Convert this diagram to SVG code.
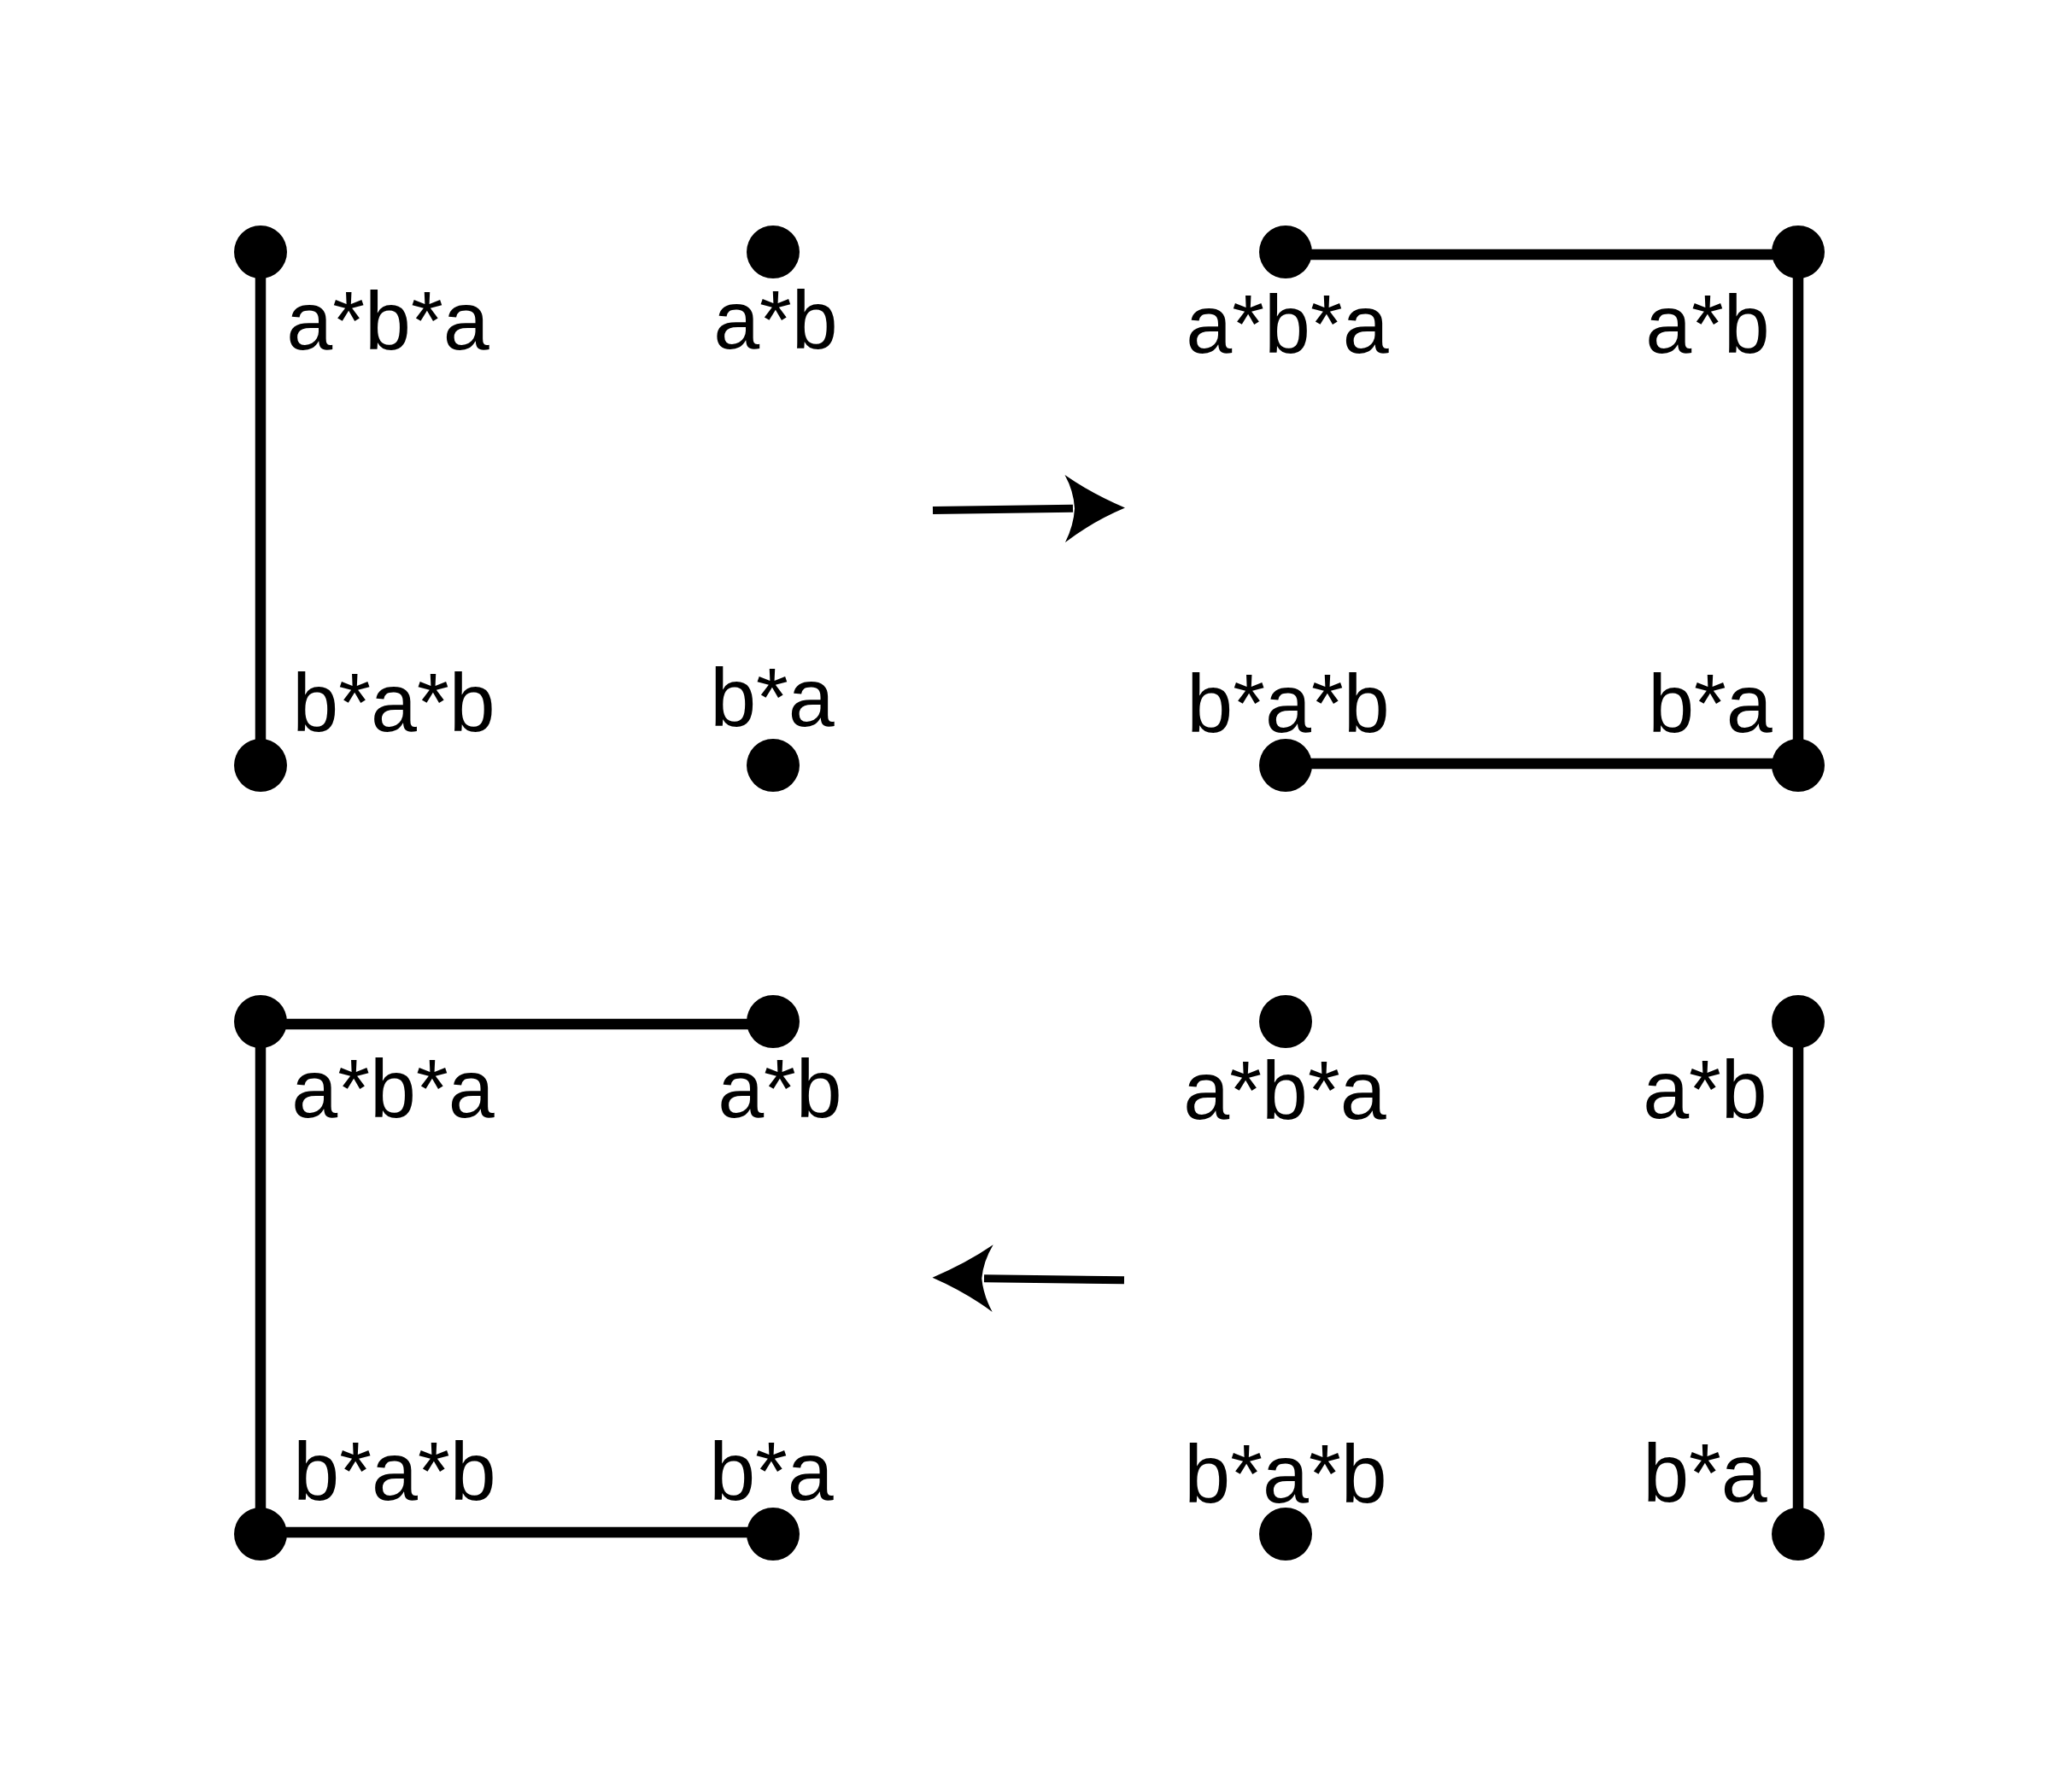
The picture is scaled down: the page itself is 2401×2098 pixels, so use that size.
<svg xmlns="http://www.w3.org/2000/svg" width="2401" height="2098" viewBox="0 0 2401 2098">
<style>
.dot{fill:#000}
.lbl{font-family:"Liberation Sans",Arial,sans-serif;font-size:97px;fill:#000;text-anchor:middle}
.edge{stroke:#000;stroke-width:12.5;fill:none}
.arr{stroke:#000;stroke-width:9;fill:none}
.head{fill:#000;stroke:none}
</style>
<rect width="2401" height="2098" fill="#fff"/>
<g id="connectors">
  <line class="edge" x1="305" y1="295" x2="305" y2="896"/>
  <line class="edge" x1="1505" y1="298" x2="2105" y2="298"/>
  <line class="edge" x1="2105" y1="295" x2="2105" y2="896"/>
  <line class="edge" x1="1505" y1="894" x2="2105" y2="894"/>
  <line class="edge" x1="305" y1="1199" x2="905" y2="1199"/>
  <line class="edge" x1="305" y1="1196" x2="305" y2="1796"/>
  <line class="edge" x1="305" y1="1794" x2="905" y2="1794"/>
  <line class="edge" x1="2105" y1="1196" x2="2105" y2="1796"/>
  <g id="arrow-right">
    <line class="arr" x1="1092" y1="597.5" x2="1256" y2="595.2"/>
    <path class="head" d="M1317,594.5 Q1278,578 1246.5,556 Q1257,575 1258,595.3 Q1257,615 1247,635 Q1278,611 1317,594.5 Z"/>
  </g>
  <g id="arrow-left">
    <line class="arr" x1="1316" y1="1498.7" x2="1152" y2="1496.8"/>
    <path class="head" d="M1091.5,1495.7 Q1131,1479 1162.7,1457.3 Q1151,1477 1149.3,1496.7 Q1151,1516 1161.7,1536 Q1131,1513 1091.5,1495.7 Z"/>
  </g>
</g>
<g id="p1-aba"><circle class="dot" cx="305" cy="295" r="31"/><text class="lbl" x="454" y="409">a*b*a</text></g>
<g id="p1-ab"><circle class="dot" cx="905" cy="295" r="31"/><text class="lbl" x="908" y="408">a*b</text></g>
<g id="p1-bab"><circle class="dot" cx="305" cy="896" r="31"/><text class="lbl" x="461" y="856">b*a*b</text></g>
<g id="p1-ba"><circle class="dot" cx="905" cy="896" r="31"/><text class="lbl" x="904" y="850">b*a</text></g>

<g id="p2-aba"><circle class="dot" cx="1505" cy="295" r="31"/><text class="lbl" x="1507" y="413">a*b*a</text></g>
<g id="p2-ab"><circle class="dot" cx="2105" cy="295" r="31"/><text class="lbl" x="1999" y="413">a*b</text></g>
<g id="p2-bab"><circle class="dot" cx="1505" cy="896" r="31"/><text class="lbl" x="1508" y="857">b*a*b</text></g>
<g id="p2-ba"><circle class="dot" cx="2105" cy="896" r="31"/><text class="lbl" x="2002" y="857">b*a</text></g>

<g id="p3-aba"><circle class="dot" cx="305" cy="1196" r="31"/><text class="lbl" x="460" y="1308">a*b*a</text></g>
<g id="p3-ab"><circle class="dot" cx="905" cy="1196" r="31"/><text class="lbl" x="913" y="1308">a*b</text></g>
<g id="p3-bab"><circle class="dot" cx="305" cy="1796" r="31"/><text class="lbl" x="462" y="1756">b*a*b</text></g>
<g id="p3-ba"><circle class="dot" cx="905" cy="1796" r="31"/><text class="lbl" x="903" y="1756">b*a</text></g>

<g id="p4-aba"><circle class="dot" cx="1505" cy="1196" r="31"/><text class="lbl" x="1504" y="1310">a*b*a</text></g>
<g id="p4-ab"><circle class="dot" cx="2105" cy="1196" r="31"/><text class="lbl" x="1996" y="1309">a*b</text></g>
<g id="p4-bab"><circle class="dot" cx="1505" cy="1796" r="31"/><text class="lbl" x="1505" y="1759">b*a*b</text></g>
<g id="p4-ba"><circle class="dot" cx="2105" cy="1796" r="31"/><text class="lbl" x="1996" y="1758">b*a</text></g>
</svg>
